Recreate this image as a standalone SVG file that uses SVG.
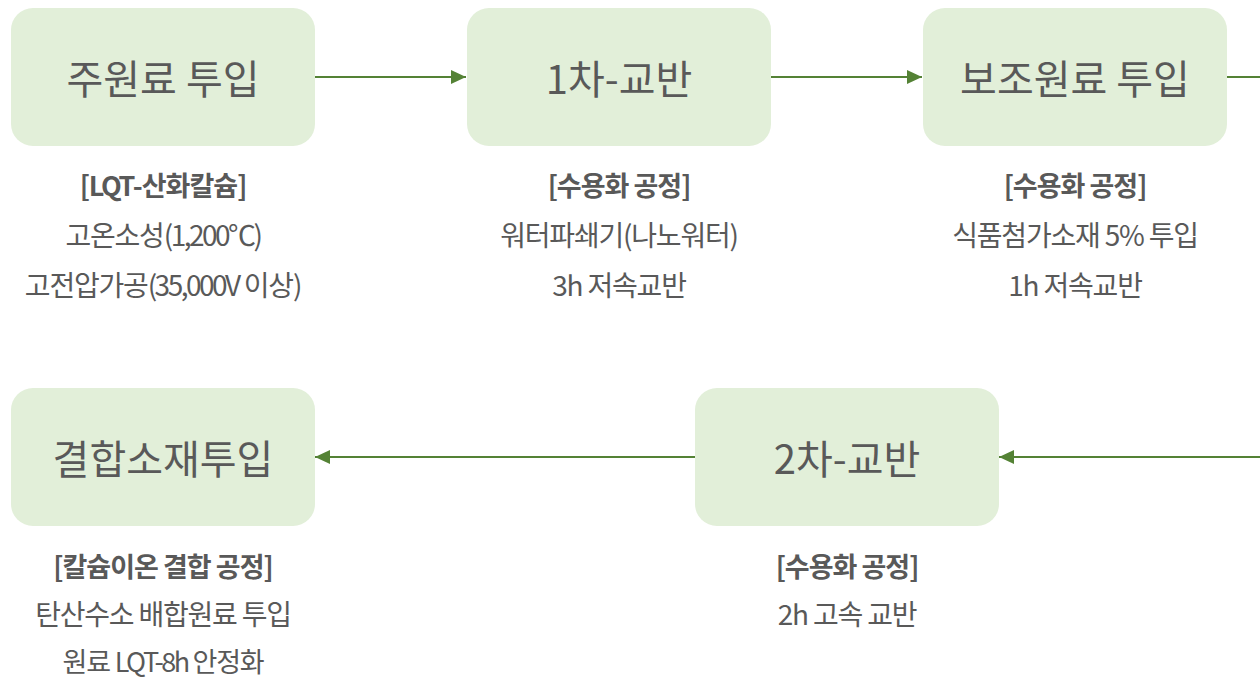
<svg xmlns="http://www.w3.org/2000/svg" width="1260" height="679" viewBox="0 0 1260 679">
<style>
.box{fill:#e2efd9;}
.t{font-family:"Noto Sans CJK KR","Noto Sans",sans-serif;fill:#595959;text-anchor:middle;dominant-baseline:central;}
.title{font-size:40px;}
.h{font-size:27px;font-weight:bold;letter-spacing:-1px;}
.s{font-size:28px;letter-spacing:-1.2px;}
.n{letter-spacing:-2.5px;}
.c{stroke:#548235;stroke-width:2;fill:none;}
</style>
<defs>
<marker id="ah" markerWidth="16" markerHeight="14" refX="15" refY="7" orient="auto" markerUnits="userSpaceOnUse">
<path d="M0,0 L15,7 L0,14 Z" fill="#548235"/>
</marker>
</defs>
<g id="connectors">
<line class="c" x1="315" y1="77" x2="466" y2="77" marker-end="url(#ah)"/>
<line class="c" x1="771" y1="77" x2="922" y2="77" marker-end="url(#ah)"/>
<line class="c" x1="1227" y1="77" x2="1262" y2="77"/>
<line class="c" x1="1262" y1="457" x2="999" y2="457" marker-end="url(#ah)"/>
<line class="c" x1="695" y1="457" x2="315" y2="457" marker-end="url(#ah)"/>
</g>
<g id="node1">
<rect class="box" x="11" y="8" width="304" height="138" rx="22"/>
<text class="t title" x="163" y="77">주원료 투입</text>
<text class="t h" x="163" y="184">[<tspan class="n">LQT</tspan>-산화칼슘]</text>
<text class="t s" x="163" y="234">고온소성<tspan class="n">(1,200℃)</tspan></text>
<text class="t s" x="163" y="284">고전압가공<tspan class="n">(35,000V</tspan> 이상)</text>
</g>
<g id="node2">
<rect class="box" x="467" y="8" width="304" height="138" rx="22"/>
<text class="t title" x="619" y="77">1차-교반</text>
<text class="t h" x="619" y="184">[수용화 공정]</text>
<text class="t s" x="619" y="234">워터파쇄기(나노워터)</text>
<text class="t s" x="619" y="284">3h 저속교반</text>
</g>
<g id="node3">
<rect class="box" x="923" y="8" width="304" height="138" rx="22"/>
<text class="t title" x="1075" y="77">보조원료 투입</text>
<text class="t h" x="1075" y="184">[수용화 공정]</text>
<text class="t s" x="1075" y="234">식품첨가소재 5% 투입</text>
<text class="t s" x="1075" y="284">1h 저속교반</text>
</g>
<g id="node4">
<rect class="box" x="11" y="388" width="304" height="138" rx="22"/>
<text class="t title" x="163" y="457">결합소재투입</text>
<text class="t h" x="163" y="565">[칼슘이온 결합 공정]</text>
<text class="t s" x="163" y="613">탄산수소 배합원료 투입</text>
<text class="t s" x="163" y="660" style="font-size:27px">원료 <tspan class="n">LQT-8h</tspan> 안정화</text>
</g>
<g id="node5">
<rect class="box" x="695" y="388" width="304" height="138" rx="22"/>
<text class="t title" x="847" y="457">2차-교반</text>
<text class="t h" x="847" y="565">[수용화 공정]</text>
<text class="t s" x="847" y="613">2h 고속 교반</text>
</g>
</svg>
